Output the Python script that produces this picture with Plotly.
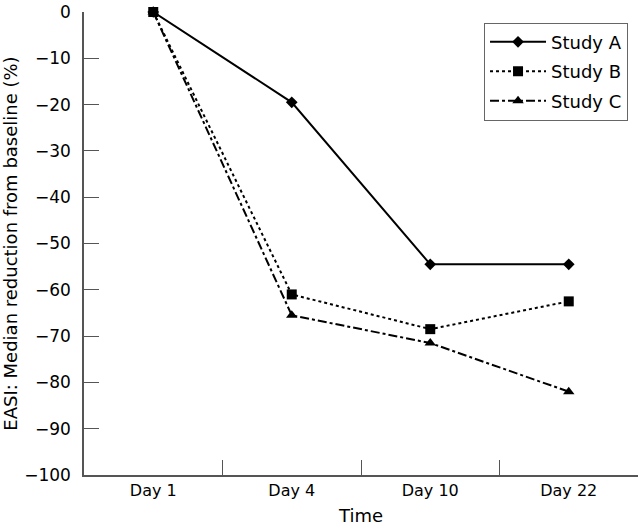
import plotly.graph_objects as go

categories = ["Day 1", "Day 4", "Day 10", "Day 22"]
study_a = [0, -19.5, -54.5, -54.5]
study_b = [0, -61, -68.5, -62.5]
study_c = [0, -65.5, -71.5, -82]
y_ticks = [0, -10, -20, -30, -40, -50, -60, -70, -80, -90, -100]

FONT = "DejaVu Sans"
fig = go.Figure()
fig.add_trace(go.Scatter(x=categories, y=study_a, name="Study A", mode="lines+markers",
                         line=dict(color="black", width=2),
                         marker=dict(symbol="diamond", size=9, color="black"),
                         legendrank=1, legendgroup="a", cliponaxis=False))
fig.add_trace(go.Scatter(x=categories, y=study_c, name="Study C", mode="lines+markers",
                         line=dict(color="black", width=2, dash="dashdot"),
                         marker=dict(symbol="triangle-up", size=10, color="black"),
                         legendrank=3, legendgroup="c", cliponaxis=False))
fig.add_trace(go.Scatter(x=categories, y=study_b, name="Study B", mode="lines+markers",
                         line=dict(color="black", width=2, dash="dot"),
                         marker=dict(symbol="square", size=10, color="black"),
                         legendrank=2, legendgroup="b", cliponaxis=False))

fig.update_layout(
    width=640, height=527,
    margin=dict(l=83, r=2, t=8, b=52),
    plot_bgcolor="white", paper_bgcolor="white",
    font=dict(family=FONT, size=16, color="black"),
    showlegend=True,
    legend=dict(x=0.982, y=0.977, xanchor="right", yanchor="top",
                bordercolor="#666", borderwidth=1, bgcolor="white",
                font=dict(size=18), tracegroupgap=3, itemwidth=56),
    xaxis=dict(type="category", range=[-0.5, 3.5], showline=True, linecolor="#555",
               linewidth=1.5, ticks="inside", ticklen=15, tickcolor="#555",
               tickson="boundaries", showgrid=False, zeroline=False,
               title=dict(text="Time", standoff=10, font=dict(size=18)),
               tickfont=dict(size=16)),
    yaxis=dict(range=[-100, 0], tickvals=y_ticks, showline=True, linecolor="#555",
               linewidth=1.5, ticks="inside", ticklen=15, tickcolor="#555",
               showgrid=False, zeroline=False, ticklabelstandoff=8,
               ticklabeloverflow="allow",
               title=dict(text="EASI: Median reduction from baseline (%)", standoff=10,
                          font=dict(size=18)),
               tickfont=dict(size=17)),
)

fig.write_html("out.html", config={"displayModeBar": False},
               post_script="document.body.style.margin='0';")
